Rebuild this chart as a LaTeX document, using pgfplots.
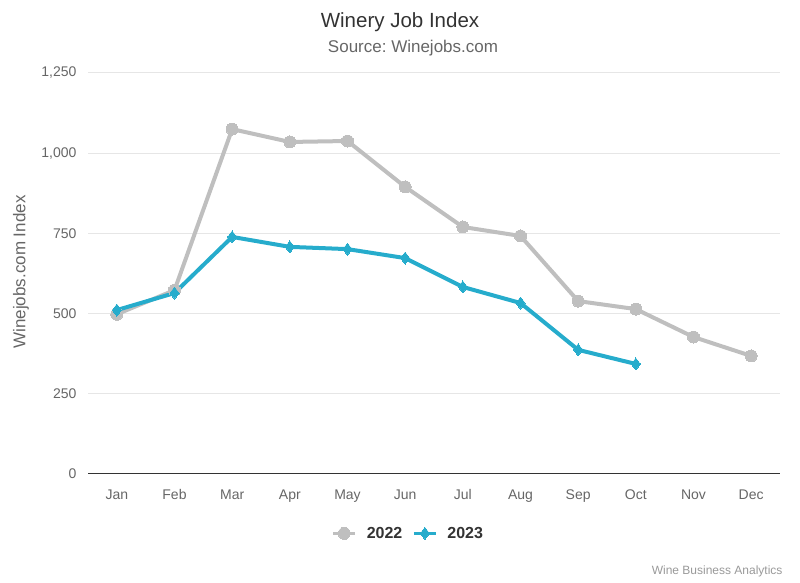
\documentclass[border=0pt]{standalone}
\usepackage{pgfplots}
\pgfplotsset{compat=1.18}
\usepackage{fontspec}
\setmainfont{Liberation Sans}
\frenchspacing
\definecolor{gline}{RGB}{191,191,191}
\definecolor{tline}{RGB}{38,172,204}
\definecolor{txt}{RGB}{51,51,51}
\definecolor{sub}{RGB}{102,102,102}
\definecolor{gridc}{RGB}{230,230,230}
\begin{document}
\begin{tikzpicture}[x=1pt,y=1pt]
\path[use as bounding box] (0,0) rectangle (800,583);
\begin{axis}[
  at={(88pt,109pt)}, anchor=south west,
  scale only axis, width=692pt, height=401pt,
  xmin=-0.5, xmax=11.5, ymin=0, ymax=1250,
  xtick={0,...,11},
  xticklabels={Jan,Feb,Mar,Apr,May,Jun,Jul,Aug,Sep,Oct,Nov,Dec},
  ytick={0,250,500,750,1000,1250},
  yticklabels={0,250,500,750,{1,000},{1,250}},
  xmajorgrids=false, ymajorgrids=true,
  major grid style={draw=gridc, line width=1pt},
  axis lines*=left,
  x axis line style={txt, line width=1pt, -},
  y axis line style={draw=none},
  major tick length=0pt,
  tick label style={font=\fontsize{14}{16}\selectfont, text=sub},
  xticklabel style={yshift=-12pt},
  yticklabel style={xshift=-8pt},
  clip=false,
  legend style={at={(0.463,-0.148)}, anchor=center, draw=none, font=\bfseries\fontsize{16}{18}\selectfont, text=txt, legend columns=2, column sep=8pt},
  legend image code/.code={\draw[#1, line width=3pt] (0pt,0pt) -- (22pt,0pt); \draw[#1, mark repeat=1, mark phase=1] plot coordinates {(11pt,0pt)};},
]
\addplot[gline, line width=4pt, mark=*, mark size=6pt, mark options={gline, line width=0pt}] coordinates {
(0,498) (1,573) (2,1075) (3,1035) (4,1038) (5,895) (6,770) (7,742) (8,539) (9,514) (10,427) (11,368)};
\addlegendentry{2022}
\addplot[tline, line width=4pt, mark=diamond*, mark size=6pt, mark options={tline, line width=0pt}] coordinates {
(0,511) (1,564) (2,739) (3,708) (4,701) (5,673) (6,583) (7,533) (8,387) (9,343)};
\addlegendentry{2023}
\end{axis}
\node[text=txt, font=\fontsize{20.5}{24}\selectfont] at (400,561) {Winery Job Index};
\node[text=sub, font=\fontsize{17}{19}\selectfont] at (413,535) {Source: Winejobs.com};
\node[rotate=90, text=sub, font=\fontsize{17}{19}\selectfont] at (21,311) {Winejobs.com Index};
\node[anchor=east, text=gray!80, font=\fontsize{12}{14}\selectfont] at (786,12) {Wine Business Analytics};
\end{tikzpicture}
\end{document}
